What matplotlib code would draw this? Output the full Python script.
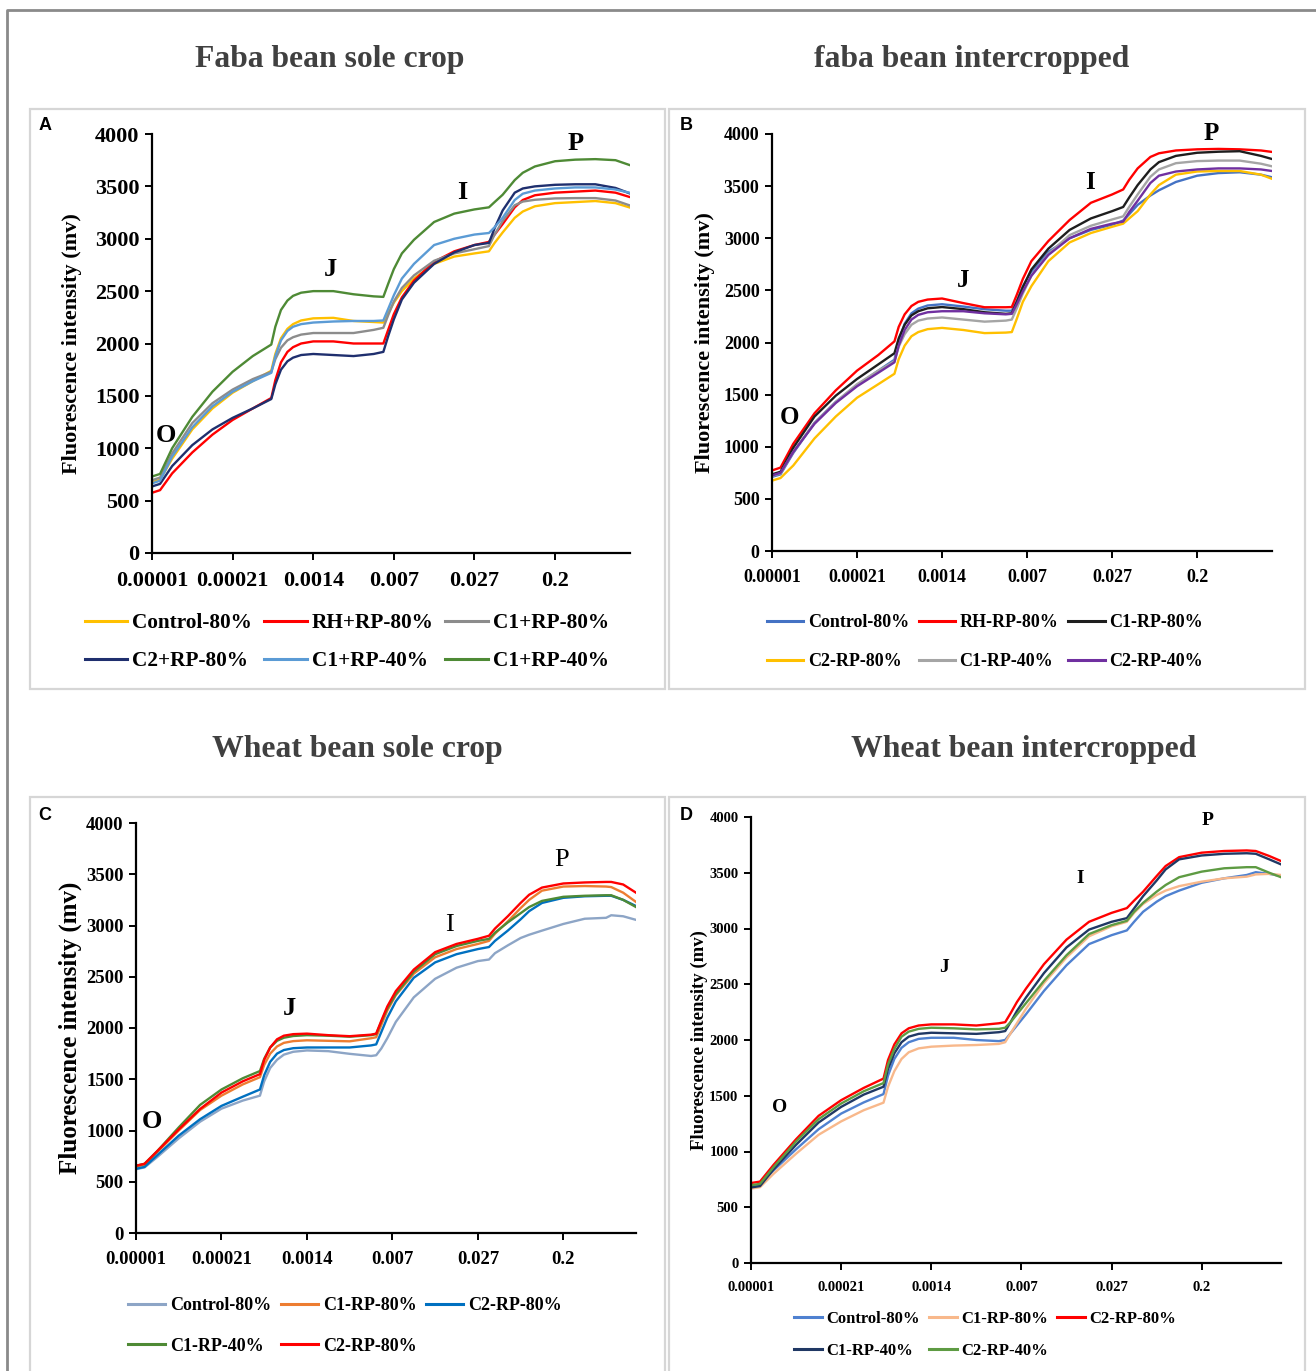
import matplotlib
matplotlib.use("Agg")
import matplotlib.pyplot as plt
from matplotlib.lines import Line2D
from matplotlib.patches import Rectangle

# ---------------- data ----------------
x_labels = ["0.00001", "0.00021", "0.0014", "0.007", "0.027", "0.2"]

# Panel A: Faba bean sole crop (x = position on the category time axis)
tA = [0.02, 0.1, 0.25, 0.5, 0.75, 1.0, 1.25, 1.48,
      1.53, 1.6, 1.68, 1.75, 1.85, 2.0,
      2.25, 2.5, 2.75, 2.87,
      2.93, 3.0, 3.1, 3.25,
      3.5, 3.75, 4.0, 4.18,
      4.25, 4.35, 4.5, 4.6, 4.75, 5.0,
      5.25, 5.5, 5.75, 5.92]
ctrl_A = [680, 700, 900, 1180, 1380, 1530, 1640, 1740, 1900, 2050, 2140, 2185, 2220, 2240,
          2245, 2215, 2205, 2200, 2290, 2390, 2500, 2620, 2760, 2830, 2860, 2880,
          2960, 3060, 3200, 3260, 3310, 3340, 3350, 3360, 3340, 3300]
rh_A = [580, 600, 760, 960, 1130, 1270, 1380, 1480, 1650, 1820, 1920, 1965, 2000, 2020,
        2020, 2000, 2000, 2000, 2130, 2280, 2440, 2600, 2780, 2880, 2940, 2970,
        3040, 3140, 3300, 3370, 3415, 3440, 3450, 3460, 3440, 3400]
c1_80_A = [700, 720, 950, 1240, 1430, 1560, 1660, 1730, 1850, 1960, 2030, 2060, 2085, 2100,
           2100, 2100, 2130, 2150, 2270, 2400, 2530, 2650, 2790, 2860, 2900, 2930,
           3040, 3170, 3320, 3355, 3372, 3385, 3388, 3388, 3365, 3320]
c2_80_A = [640, 660, 830, 1030, 1180, 1290, 1380, 1470, 1610, 1750, 1830, 1865, 1890, 1900,
           1890, 1880, 1900, 1920, 2070, 2230, 2420, 2580, 2760, 2870, 2940, 2960,
           3100, 3270, 3440, 3480, 3500, 3515, 3520, 3520, 3485, 3435]
c1_40_A = [670, 690, 920, 1200, 1400, 1540, 1640, 1720, 1880, 2030, 2120, 2160, 2185, 2200,
           2210, 2215, 2215, 2220, 2330, 2460, 2620, 2760, 2940, 3000, 3040, 3055,
           3110, 3200, 3370, 3430, 3460, 3480, 3490, 3490, 3470, 3440]
c1_40b_A = [735, 755, 1000, 1300, 1540, 1730, 1880, 1990, 2160, 2320, 2410, 2455, 2485, 2500,
            2500, 2470, 2450, 2445, 2570, 2710, 2860, 2990, 3160, 3240, 3280, 3300,
            3350, 3420, 3560, 3630, 3690, 3740, 3755, 3760, 3750, 3705]

# Panel B: faba bean intercropped
tB = [0.02, 0.1, 0.25, 0.5, 0.75, 1.0, 1.25, 1.44,
      1.49, 1.56, 1.64, 1.72, 1.83, 2.0,
      2.25, 2.5, 2.75, 2.82,
      2.88, 2.95, 3.05,
      3.25, 3.5, 3.75, 4.0, 4.13,
      4.2, 4.3, 4.45, 4.55, 4.75, 5.0,
      5.25, 5.5, 5.75, 5.88]
ctrl_B = [716, 735, 940, 1230, 1430, 1590, 1730, 1835, 2020, 2180, 2280, 2325, 2355, 2367,
          2345, 2319, 2305, 2305, 2400, 2540, 2680, 2870, 3000, 3080, 3130, 3170,
          3230, 3320, 3410, 3460, 3540, 3600, 3625, 3633, 3610, 3585]
rh_B = [778, 800, 1028, 1321, 1541, 1730, 1880, 2011, 2150, 2270, 2350, 2390, 2412, 2422,
        2378, 2338, 2338, 2340, 2460, 2610, 2780, 2973, 3175, 3340, 3420, 3468,
        3560, 3670, 3780, 3815, 3842, 3853, 3857, 3853, 3842, 3828]
c1_80_B = [740, 760, 990, 1290, 1490, 1650, 1790, 1897, 2040, 2170, 2260, 2300, 2328, 2340,
           2320, 2290, 2275, 2280, 2390, 2530, 2700, 2900, 3080, 3190, 3260, 3300,
           3390, 3510, 3660, 3730, 3790, 3820, 3830, 3835, 3790, 3760]
c2_80_B = [680, 700, 820, 1080, 1290, 1470, 1600, 1700, 1840, 1970, 2060, 2100, 2128, 2140,
           2120, 2090, 2095, 2100, 2230, 2390, 2540, 2780, 2960, 3050, 3110, 3140,
           3190, 3260, 3420, 3510, 3610, 3640, 3645, 3645, 3610, 3570]
c1_40_B = [725, 745, 950, 1230, 1430, 1600, 1730, 1820, 1960, 2080, 2170, 2210, 2230, 2240,
           2220, 2200, 2210, 2220, 2330, 2470, 2640, 2850, 3030, 3120, 3180, 3210,
           3300, 3420, 3590, 3660, 3720, 3740, 3745, 3745, 3715, 3690]
c2_40_B = [730, 750, 950, 1220, 1420, 1580, 1710, 1810, 1970, 2120, 2220, 2265, 2290, 2300,
           2300, 2280, 2270, 2275, 2370, 2490, 2640, 2840, 3000, 3090, 3140, 3160,
           3250, 3360, 3530, 3600, 3640, 3660, 3670, 3670, 3660, 3645]

# Panel C: Wheat bean sole crop
tC = [0.02, 0.1, 0.25, 0.5, 0.75, 1.0, 1.25, 1.45,
      1.5, 1.57, 1.65, 1.73, 1.84, 2.0,
      2.25, 2.5, 2.75, 2.81,
      2.87, 2.94, 3.04,
      3.25, 3.5, 3.75, 4.0, 4.13,
      4.2, 4.35, 4.5, 4.6, 4.75, 5.0,
      5.25, 5.5, 5.56, 5.7, 5.85]
ctrl_C = [626, 640, 742, 923, 1086, 1213, 1292, 1340, 1480, 1610, 1690, 1740, 1768, 1781,
          1774, 1748, 1727, 1734, 1800, 1900, 2060, 2299, 2480, 2588, 2653, 2668,
          2730, 2806, 2878, 2910, 2950, 3015, 3066, 3075, 3100, 3090, 3055]
c1_80_C = [650, 665, 790, 1000, 1200, 1340, 1450, 1520, 1640, 1750, 1820, 1855, 1872, 1880,
           1875, 1870, 1900, 1910, 2030, 2170, 2320, 2530, 2690, 2770, 2820, 2850,
           2920, 3040, 3170, 3250, 3340, 3380, 3385, 3380, 3375, 3320, 3230]
c2_80_C = [630, 645, 760, 950, 1110, 1240, 1330, 1400, 1540, 1670, 1750, 1785, 1803, 1810,
           1810, 1810, 1830, 1840, 1960, 2100, 2260, 2490, 2640, 2720, 2770, 2790,
           2850, 2950, 3060, 3140, 3220, 3270, 3285, 3290, 3290, 3250, 3190]
c1_40_C = [660, 675, 800, 1030, 1250, 1400, 1510, 1580, 1700, 1810, 1875, 1905, 1922, 1930,
           1925, 1915, 1930, 1940, 2060, 2190, 2330, 2550, 2720, 2800, 2850, 2870,
           2930, 3030, 3120, 3180, 3240, 3280, 3290, 3295, 3295, 3250, 3180]
c2_80b_C = [660, 675, 800, 1010, 1210, 1370, 1480, 1550, 1690, 1810, 1890, 1925, 1940, 1945,
            1930, 1920, 1935, 1945, 2070, 2210, 2360, 2570, 2740, 2820, 2870, 2900,
            2970, 3090, 3220, 3300, 3370, 3410, 3420, 3425, 3425, 3400, 3320]

# Panel D: Wheat bean intercropped
tD = [0.02, 0.1, 0.25, 0.5, 0.75, 1.0, 1.25, 1.47,
      1.52, 1.59, 1.67, 1.75, 1.86, 2.0,
      2.25, 2.5, 2.75, 2.82,
      2.88, 2.95, 3.05,
      3.25, 3.5, 3.75, 4.0, 4.17,
      4.25, 4.35, 4.5, 4.6, 4.75, 5.0,
      5.25, 5.5, 5.6, 5.75, 5.88]
ctrl_D = [690, 700, 830, 1020, 1200, 1340, 1440, 1515, 1680, 1830, 1930, 1980, 2010, 2020,
          2020, 2000, 1990, 2000, 2060, 2130, 2230, 2440, 2670, 2860, 2940, 2983,
          3060, 3150, 3240, 3290, 3340, 3410, 3450, 3480, 3505, 3490, 3470]
c1_80_D = [670, 680, 800, 980, 1150, 1270, 1370, 1438, 1580, 1720, 1830, 1890, 1925, 1940,
           1950, 1955, 1965, 1980, 2060, 2150, 2280, 2510, 2740, 2930, 3020, 3060,
           3140, 3220, 3300, 3340, 3380, 3420, 3450, 3465, 3485, 3490, 3480]
c2_80_D = [720, 730, 880, 1110, 1320, 1460, 1570, 1654, 1820, 1960, 2060, 2105, 2130, 2140,
           2140, 2130, 2150, 2160, 2240, 2340, 2460, 2680, 2900, 3060, 3140, 3183,
           3250, 3330, 3470, 3560, 3640, 3680, 3695, 3700, 3695, 3650, 3605]
c1_40_D = [680, 690, 840, 1060, 1260, 1400, 1510, 1581, 1740, 1880, 1980, 2030, 2055, 2065,
           2060, 2055, 2070, 2080, 2160, 2260, 2380, 2600, 2830, 2990, 3060, 3093,
           3180, 3290, 3430, 3530, 3620, 3655, 3670, 3675, 3670, 3620, 3575]
c2_40_D = [700, 710, 860, 1090, 1290, 1430, 1540, 1614, 1780, 1920, 2030, 2075, 2100, 2110,
           2105, 2095, 2100, 2110, 2160, 2230, 2330, 2530, 2760, 2950, 3030, 3069,
           3150, 3230, 3330, 3390, 3460, 3510, 3540, 3550, 3550, 3500, 3460]

# ---------------- figure ----------------
W, H = 1316, 1371
fig = plt.figure(figsize=(W / 100, H / 100), dpi=100)
SERIF = "Liberation Serif"
SANS = "Liberation Sans"


def fx(px):
    return px / W


def fy(py):
    return 1 - py / H


# outer frame
fig.add_artist(Line2D([fx(7), fx(7), fx(1316)], [fy(1371), fy(10), fy(10)],
                      color="#8a8a8a", lw=2, transform=fig.transFigure))
# panel boxes
for (x0, y0, x1, y1) in [(30, 109, 665, 689), (669, 109, 1305, 689),
                         (30, 797, 665, 1375), (669, 797, 1305, 1375)]:
    fig.add_artist(Rectangle((fx(x0), fy(y1)), fx(x1) - fx(x0), fy(y0) - fy(y1),
                             fill=False, ec="#d6d6d6", lw=1.6, transform=fig.transFigure))

# titles
for txt, cx, cy in [("Faba bean sole crop", 330, 60), ("faba bean intercropped", 972, 60),
                    ("Wheat bean sole crop", 357, 749), ("Wheat bean intercropped", 1024, 749)]:
    fig.text(fx(cx), fy(cy), txt, ha="center", va="center", family=SERIF,
             fontweight="bold", fontsize=22.8, color="#404040")

# panel letters
for L, px, py in [("A", 45, 126), ("B", 686, 126), ("C", 45, 816), ("D", 686, 816)]:
    fig.text(fx(px), fy(py), L, ha="center", va="center", family=SANS,
             fontweight="bold", fontsize=13, color="black")


def make_panel(rect, t, series, names, colors, xmax, tick_fs, ylab_fs, ylab_pad, leg_fs,
               leg_center, handlelen, leg_spacing, labels_pos, lab_fs, lab_weights):
    x0, y0, x1, y1 = rect
    ax = fig.add_axes([fx(x0), fy(y1), fx(x1) - fx(x0), fy(y0) - fy(y1)])
    handles = []
    for s, n, c in zip(series, names, colors):
        h, = ax.plot(t, s, color=c, lw=1.7, label=n, solid_joinstyle="round")
        handles.append(h)
    ax.set_xlim(0, xmax)
    ax.set_ylim(0, 4000)
    ax.set_yticks(range(0, 4001, 500))
    ax.set_xticks(range(len(x_labels)))
    ax.set_xticklabels(x_labels)
    for sp in ["top", "right"]:
        ax.spines[sp].set_visible(False)
    for sp in ["left", "bottom"]:
        ax.spines[sp].set_linewidth(1.6)
        ax.spines[sp].set_color("black")
    ax.tick_params(direction="out", length=5, width=1.4, labelsize=tick_fs, pad=4)
    for lab in ax.get_xticklabels() + ax.get_yticklabels():
        lab.set_family(SERIF)
        lab.set_fontweight("bold")
    ax.tick_params(axis="x", pad=8)
    ax.set_ylabel("Fluorescence intensity (mv)", family=SERIF, fontweight="bold",
                  fontsize=ylab_fs, labelpad=ylab_pad)
    for (txt, xx, yy), wgt in zip(labels_pos, lab_weights):
        ax.text(xx, yy, txt, ha="center", va="center", family=SERIF,
                fontweight=wgt, fontsize=lab_fs)
    # legend: rows of 3, filled row by row
    n = len(handles)
    order = [0, 3, 1, 4, 2, 5] if n == 6 else [0, 3, 1, 4, 2]
    leg = fig.legend([handles[i] for i in order], [names[i] for i in order],
                     loc="center", bbox_to_anchor=(fx(leg_center[0]), fy(leg_center[1])),
                     ncol=3, frameon=False, handlelength=handlelen, handletextpad=0.25,
                     columnspacing=0.55, labelspacing=leg_spacing,
                     prop={"family": SERIF, "weight": "bold", "size": leg_fs})
    for l in leg.get_lines():
        l.set_linewidth(2.2)
    return ax


make_panel((152, 134, 630, 553), tA,
           [ctrl_A, rh_A, c1_80_A, c2_80_A, c1_40_A, c1_40b_A],
           ["Control-80%", "RH+RP-80%", "C1+RP-80%", "C2+RP-80%", "C1+RP-40%", "C1+RP-40%"],
           ["#FFC000", "#FF0000", "#8C8C8C", "#1F2F6E", "#5B9BD5", "#4E8A35"],
           5.93, 16, 16, 9, 15.3, (347, 642), 2.0, 0.85,
           [("O", 0.17, 1126), ("J", 2.21, 2702), ("I", 3.85, 3437), ("P", 5.26, 3914)],
           19, ["bold"] * 4)

make_panel((772, 134, 1272, 551), tB,
           [ctrl_B, rh_B, c1_80_B, c2_80_B, c1_40_B, c2_40_B],
           ["Control-80%", "RH-RP-80%", "C1-RP-80%", "C2-RP-80%", "C1-RP-40%", "C2-RP-40%"],
           ["#4472C4", "#FF0000", "#1E1E1E", "#FFC000", "#A5A5A5", "#7030A0"],
           5.88, 13, 16, 6, 13, (985, 642), 2.0, 1.2,
           [("O", 0.21, 1276), ("J", 2.25, 2599), ("I", 3.74, 3530), ("P", 5.16, 4000)],
           18, ["bold"] * 4)

make_panel((136, 823, 636, 1233), tC,
           [ctrl_C, c1_80_C, c2_80_C, c1_40_C, c2_80b_C],
           ["Control-80%", "C1-RP-80%", "C2-RP-80%", "C1-RP-40%", "C2-RP-80%"],
           ["#8DA5C6", "#ED7D31", "#0070C0", "#4E8A35", "#FF0000"],
           5.85, 13.5, 18, 3, 13, (345, 1326), 2.05, 1.3,
           [("O", 0.19, 1083), ("J", 1.80, 2195), ("I", 3.67, 3005), ("P", 4.98, 3639)],
           19, ["bold", "bold", "normal", "normal"])

make_panel((751, 817, 1281, 1263), tD,
           [ctrl_D, c1_80_D, c2_80_D, c1_40_D, c2_40_D],
           ["Control-80%", "C1-RP-80%", "C2-RP-80%", "C1-RP-40%", "C2-RP-40%"],
           ["#4F81D0", "#F8B88B", "#FF0000", "#203864", "#5E9B43"],
           5.88, 10.5, 13.5, 1, 12, (985, 1335), 1.7, 0.99,
           [("O", 0.32, 1399), ("J", 2.14, 2646), ("I", 3.65, 3444), ("P", 5.06, 3973)],
           14, ["bold"] * 4)

fig.savefig("out.png", dpi=100)
